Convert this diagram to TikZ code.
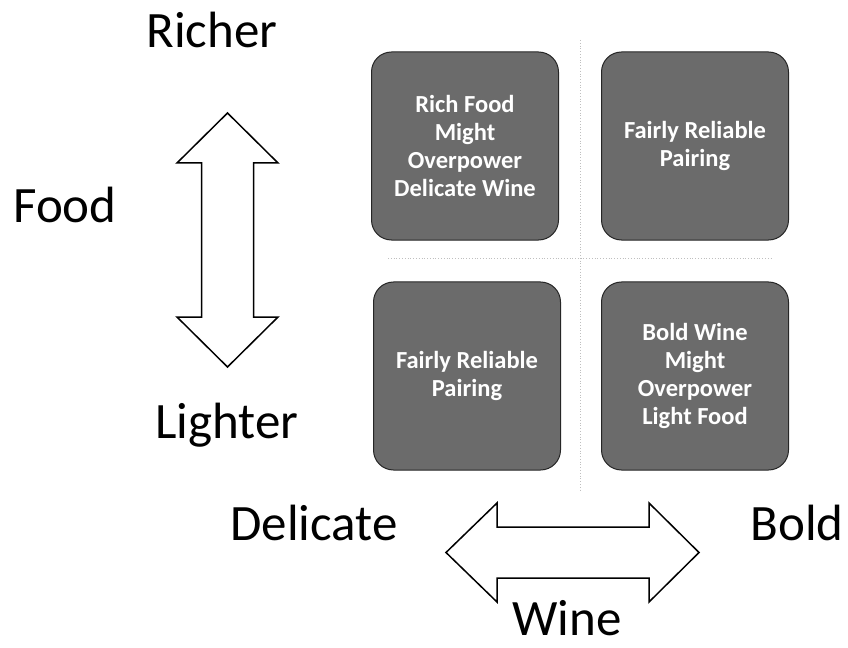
\documentclass[tikz,border=0pt]{standalone}
\usepackage{fontspec}
\setmainfont{Carlito}
\usetikzlibrary{positioning}

\begin{document}
\begin{tikzpicture}[x=1bp, y=-1bp,
				cell/.style={rectangle, rounded corners=20bp, fill=black!58, draw=black!85, line width=1bp,
					minimum width=187bp, minimum height=188bp, inner sep=0pt,
					text=white, align=center, font=\fontsize{24.5bp}{28bp}\selectfont\bfseries},
				axislabel/.style={anchor=base, inner sep=0pt, font=\fontsize{51bp}{60bp}\selectfont},
				bigarrow/.style={draw=black, line width=1.5bp, fill=white, line join=miter},
				guide/.style={black!25, dotted, line width=0.8bp}
			]
			\useasboundingbox (0,0) rectangle (848,648);
			% faint quadrant guides
			\coordinate (gtop) at (580,40);
			\coordinate (gbottom) at (580,490);
			\coordinate (gleft) at (388,258);
			\coordinate (gright) at (772,258);
			\draw[guide] (gtop) -- (gbottom);
			\draw[guide] (gleft) -- (gright);
			\node[cell] (richfood) at (465,146) {Rich Food\\Might\\Overpower\\Delicate Wine};
			\node[cell] (fairtop) at (695,146) {Fairly Reliable\\Pairing};
			\node[cell] (fairbottom) at (467,376) {Fairly Reliable\\Pairing};
			\node[cell] (boldwine) at (695,376) {Bold Wine\\Might\\Overpower\\Light Food};
			\node[axislabel] (richer) at (212,48) {Richer};
			\node[axislabel] (food) at (65,223) {Food};
			\node[axislabel] (lighter) at (227,438) {Lighter};
			\node[axislabel] (delicate) at (314,540) {Delicate};
			\node[axislabel] (bold) at (797,540) {Bold};
			\node[axislabel] (wine) at (567,635) {Wine};
			% food arrow
			\draw[bigarrow] (227.5,113) -- (278,163) -- (253.5,163) -- (253.5,317) -- (278,317)
				-- (227.5,367) -- (177,317) -- (201.5,317) -- (201.5,163) -- (177,163) -- cycle;
			% wine arrow
			\draw[bigarrow] (446,552.5) -- (497,503) -- (497,527) -- (649,527) -- (649,503)
				-- (699,552.5) -- (649,602) -- (649,578) -- (497,578) -- (497,602) -- cycle;
			\end{tikzpicture}
\end{document}
